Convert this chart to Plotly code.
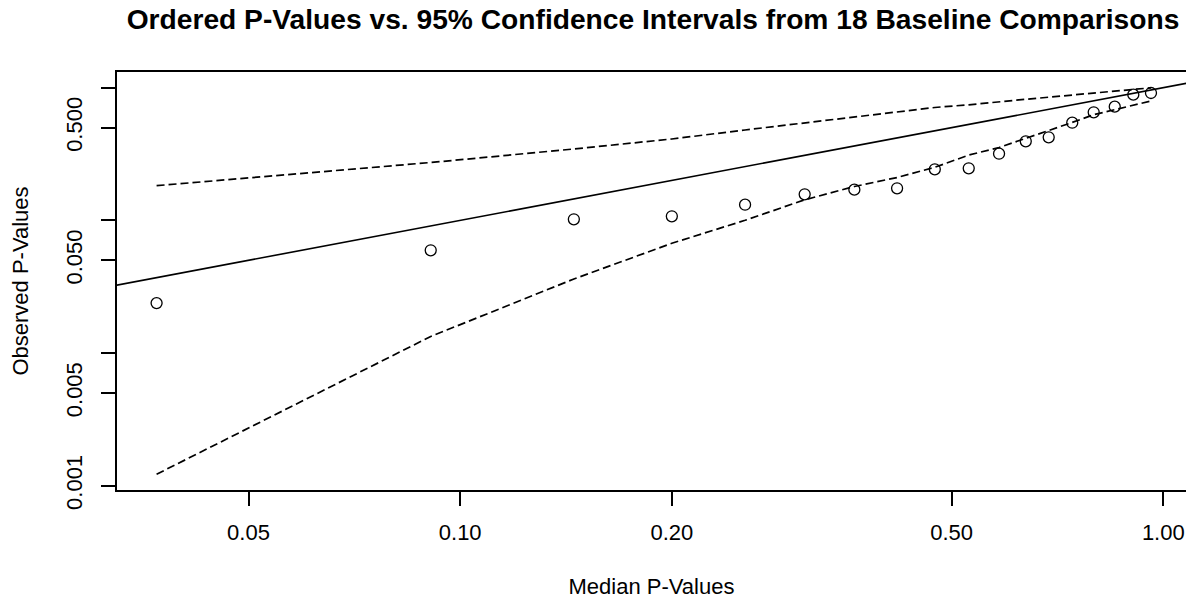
import plotly.graph_objects as go

# ---- data ----
median_p = [0.0370, 0.0908, 0.1451, 0.2000, 0.2542, 0.3090, 0.3636, 0.4182, 0.4732,
            0.5288, 0.5840, 0.6374, 0.6871, 0.7422, 0.7962, 0.8530, 0.9065, 0.9605]
observed_p = [0.0238, 0.0595, 0.1019, 0.1073, 0.1312, 0.1572, 0.1703, 0.1745, 0.2426,
              0.2469, 0.3180, 0.3945, 0.4228, 0.5447, 0.6526, 0.7192, 0.8857, 0.9120]
upper_ci = [0.1825, 0.2730, 0.3451, 0.4106, 0.4800, 0.5420, 0.6015, 0.6560, 0.7093,
            0.7433, 0.7870, 0.8176, 0.8479, 0.8810, 0.9073, 0.9443, 0.9777, 0.9980]
lower_ci = [0.00122, 0.01333, 0.03614, 0.06718, 0.1001, 0.1429, 0.1800, 0.2104, 0.2512,
            0.3104, 0.3541, 0.4142, 0.4750, 0.5475, 0.6258, 0.6849, 0.7407, 0.7938]
identity_line = [0.01, 10.0]   # reference line y = x (clipped to plot)

x_tick_vals = [0.05, 0.1, 0.2, 0.5, 1.0]
x_tick_text = ["0.05", "0.10", "0.20", "0.50", "1.00"]
y_tick_vals = [0.001, 0.005, 0.01, 0.05, 0.1, 0.5, 1.0]
y_tick_text = ["0.001", "0.005", "", "0.050", "", "0.500", ""]

title_text = "Ordered P-Values vs. 95% Confidence Intervals from 18 Baseline Comparisons"
x_title = "Median P-Values"
y_title = "Observed P-Values"

FONT = "Liberation Sans, Arial, Helvetica, sans-serif"
INK = "#000000"

W, H = 1186, 604

fig = go.Figure()
fig.add_trace(go.Scatter(x=identity_line, y=identity_line, mode="lines",
                         line=dict(color=INK, width=1.6), showlegend=False, hoverinfo="skip"))
fig.add_trace(go.Scatter(x=median_p, y=upper_ci, mode="lines",
                         line=dict(color=INK, width=1.7, dash="8px,4px"), showlegend=False))
fig.add_trace(go.Scatter(x=median_p, y=lower_ci, mode="lines",
                         line=dict(color=INK, width=1.7, dash="8px,4px"), showlegend=False))
fig.add_trace(go.Scatter(x=median_p, y=observed_p, mode="markers",
                         marker=dict(symbol="circle-open", size=11, color=INK,
                                     line=dict(width=1.3, color=INK)),
                         showlegend=False))

fig.update_layout(
    width=W, height=H,
    margin=dict(l=117, r=0, t=72, b=114),
    paper_bgcolor="white", plot_bgcolor="white",
    font=dict(family=FONT, size=22, color=INK),
    title=dict(text=title_text, x=653 / W, xref="container",
               xanchor="center", y=1 - 19 / H, yanchor="middle",
               font=dict(family=FONT, size=28.2, color=INK, weight="bold")),
    xaxis=dict(type="log", range=[-1.4881, 0.0323],
               tickvals=x_tick_vals, ticktext=x_tick_text,
               ticks="outside", ticklen=14, tickwidth=1.5, tickcolor=INK,
               showline=True, linecolor=INK, linewidth=1.5, mirror=True,
               showgrid=False, zeroline=False, ticklabelstandoff=8,
               title=dict(text=x_title, standoff=34, font=dict(size=22))),
    yaxis=dict(type="log", range=[-3.0324, 0.1183],
               tickvals=y_tick_vals, ticktext=y_tick_text, tickangle=-90,
               ticks="outside", ticklen=14, tickwidth=1.5, tickcolor=INK,
               showline=True, linecolor=INK, linewidth=1.5, mirror=False,
               showgrid=False, zeroline=False, ticklabelstandoff=10,
               title=dict(text=y_title, standoff=28, font=dict(size=22))),
)

# remove the default 8px page margin so the figure fills the window exactly
fig.write_html("out.html",
               config={"displayModeBar": False},
               post_script="document.body.style.margin='0';"
                           "document.body.style.overflow='hidden';")
